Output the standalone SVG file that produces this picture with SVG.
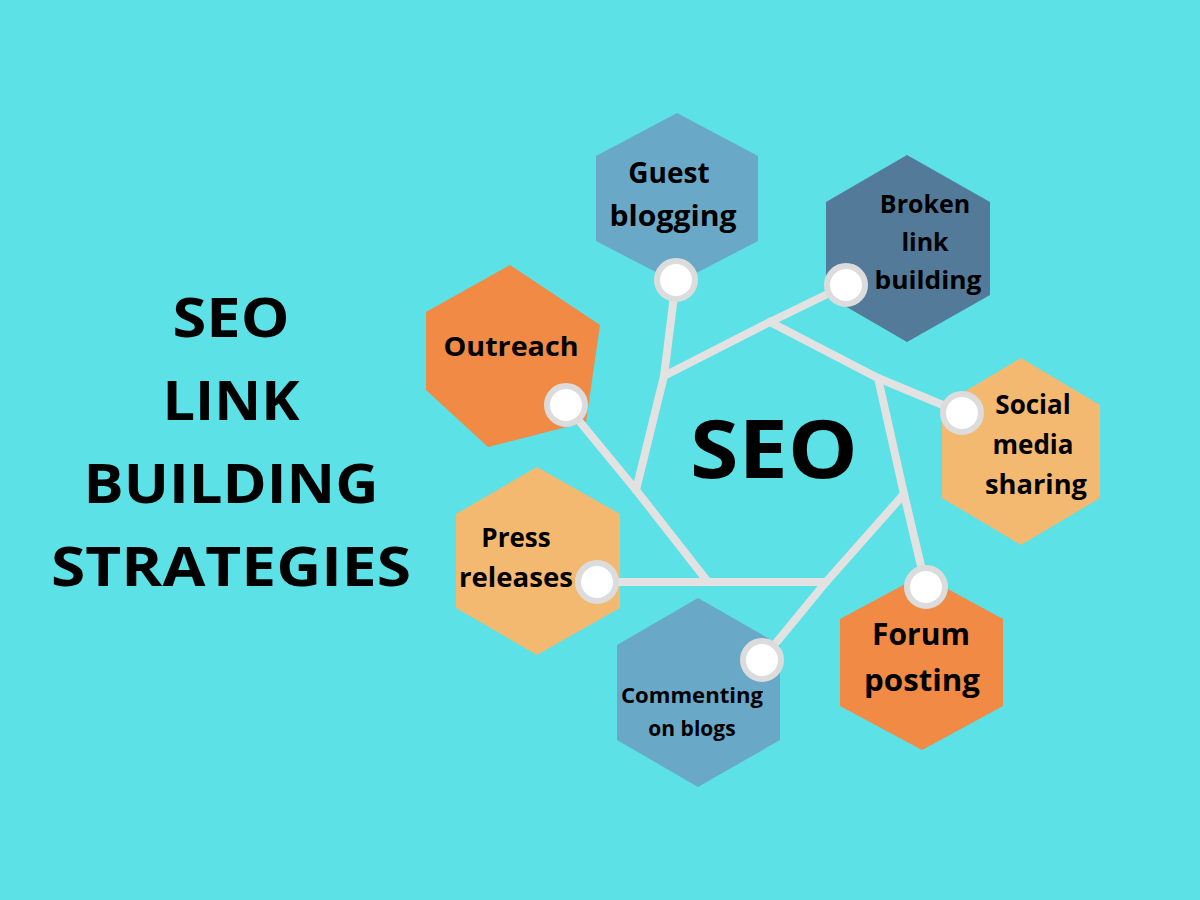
<svg xmlns="http://www.w3.org/2000/svg" width="1200" height="900" viewBox="0 0 1200 900">
<style>
.t{font-family:"Open Sans","Liberation Sans",sans-serif;font-weight:bold;fill:#000;text-anchor:middle}
.ln{stroke:#e2e2e2;stroke-width:8;fill:none;stroke-linecap:round}
.dot{fill:#fff;stroke:#dcdcdc;stroke-width:6}
</style>
<rect width="1200" height="900" fill="#5ce1e6"/>
<g id="title">
<text class="t" x="231" y="337" font-size="54" textLength="117" lengthAdjust="spacingAndGlyphs">SEO</text>
<text class="t" x="231" y="420" font-size="54" textLength="137" lengthAdjust="spacingAndGlyphs">LINK</text>
<text class="t" x="231" y="503" font-size="54" textLength="295" lengthAdjust="spacingAndGlyphs">BUILDING</text>
<text class="t" x="231" y="586" font-size="54" textLength="360" lengthAdjust="spacingAndGlyphs">STRATEGIES</text>
</g>
<g id="guest"><polygon points="677,113 758,156 758,241 677,283 596,241 596,156" fill="#6aa8c8"/>
<text class="t" x="669" y="183" font-size="28">Guest</text><text class="t" x="673" y="226" font-size="28" textLength="127" lengthAdjust="spacingAndGlyphs">blogging</text></g>
<g id="broken"><polygon points="907,155 990,202 990,295 907,342 826,295 826,202" fill="#537a98"/>
<text class="t" x="925" y="213" font-size="25">Broken</text><text class="t" x="925" y="251" font-size="25">link</text><text class="t" x="928" y="289" font-size="25" textLength="107" lengthAdjust="spacingAndGlyphs">building</text></g>
<g id="social"><polygon points="1021,358 1100,405 1100,498 1021,545 942,498 942,405" fill="#f3b971"/>
<text class="t" x="1033" y="414" font-size="26">Social</text><text class="t" x="1033" y="454" font-size="26">media</text><text class="t" x="1036" y="494" font-size="26" textLength="102" lengthAdjust="spacingAndGlyphs">sharing</text></g>
<g id="forum"><polygon points="922,575 1003,619 1003,706 922,750 840,706 840,619" fill="#f08a45"/>
<text class="t" x="921" y="645" font-size="30">Forum</text><text class="t" x="922" y="691" font-size="30" textLength="116" lengthAdjust="spacingAndGlyphs">posting</text></g>
<g id="commenting"><polygon points="698,598 780,645 780,740 698,787 617,740 617,645" fill="#6aa8c8"/>
<text class="t" x="692" y="703" font-size="21" textLength="142" lengthAdjust="spacingAndGlyphs">Commenting</text><text class="t" x="692" y="736" font-size="21">on blogs</text></g>
<g id="press"><polygon points="537,467 620,514 620,608 537,655 456,608 456,514" fill="#f3b971"/>
<text class="t" x="516" y="547" font-size="26">Press</text><text class="t" x="516" y="587" font-size="26" textLength="114" lengthAdjust="spacingAndGlyphs">releases</text></g>
<g id="outreach"><polygon points="510,265 600,325 586,422 488,447 426,390 426,312" fill="#f08a45"/>
<text class="t" x="511" y="356" font-size="27" textLength="135" lengthAdjust="spacingAndGlyphs">Outreach</text></g>
<g id="connectors">
<polyline class="ln" points="846,285 770,322 664,376"/>
<polyline class="ln" points="962,413 878,378 770,322"/>
<polyline class="ln" points="926,587 904,494 878,378"/>
<polyline class="ln" points="762,660 826,582 904,494"/>
<polyline class="ln" points="597,582 708,582 826,582"/>
<polyline class="ln" points="566,405 636,490 708,582"/>
<polyline class="ln" points="676,280 664,376 636,490"/>
</g>
<g id="dots">
<circle class="dot" cx="676" cy="280" r="19"/>
<circle class="dot" cx="846" cy="285" r="19"/>
<circle class="dot" cx="962" cy="413" r="19"/>
<circle class="dot" cx="926" cy="587" r="19"/>
<circle class="dot" cx="762" cy="660" r="19"/>
<circle class="dot" cx="597" cy="582" r="19"/>
<circle class="dot" cx="566" cy="405" r="19"/>
</g>
<g id="seo"><text class="t" x="774" y="478" font-size="80" textLength="168" lengthAdjust="spacingAndGlyphs">SEO</text></g>
</svg>
